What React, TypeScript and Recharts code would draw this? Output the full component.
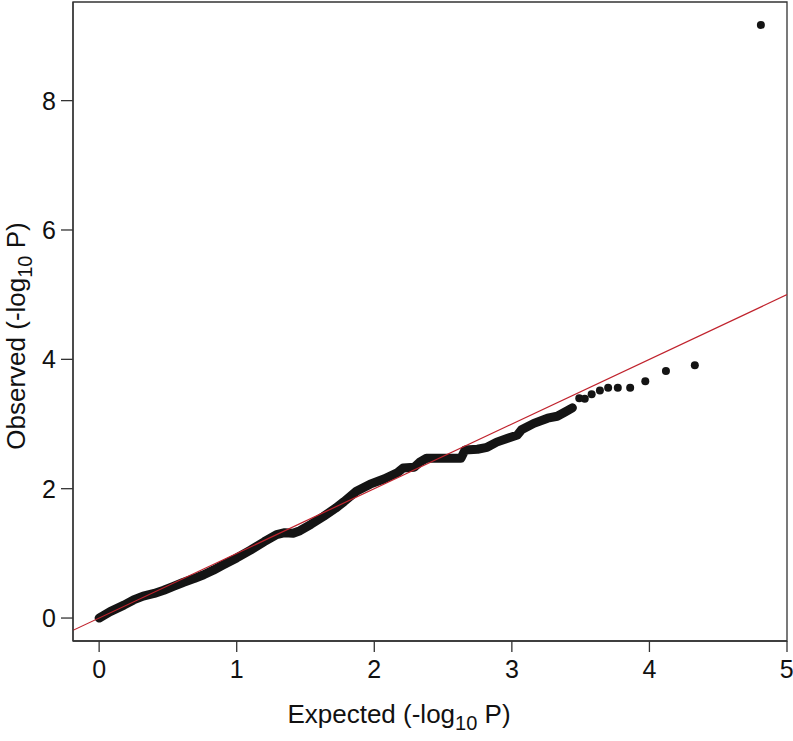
import React from "react";
import {
  ComposedChart,
  Line,
  Scatter,
  XAxis,
  YAxis,
  ReferenceArea,
} from "recharts";

// Dense part of the QQ curve (overlapping points read along the band)
const expectedBand = [
  0.0, 0.08, 0.18, 0.25, 0.32, 0.4, 0.47, 0.54, 0.61, 0.69, 0.76, 0.83, 0.9,
  1.0, 1.1, 1.2, 1.29, 1.35, 1.41, 1.46, 1.54, 1.63, 1.72, 1.78, 1.87, 1.97,
  2.07, 2.17, 2.21, 2.29, 2.33, 2.38, 2.5, 2.63, 2.66, 2.75, 2.82, 2.89, 2.97,
  3.04, 3.07, 3.16, 3.26, 3.33, 3.39, 3.44,
];
const observedBand = [
  0.0, 0.1, 0.2, 0.28, 0.34, 0.38, 0.43, 0.49, 0.55, 0.61, 0.67, 0.74, 0.82,
  0.93, 1.05, 1.18, 1.29, 1.32, 1.31, 1.35, 1.45, 1.57, 1.7, 1.8, 1.96, 2.07,
  2.15, 2.25, 2.32, 2.33, 2.41, 2.47, 2.47, 2.47, 2.6, 2.61, 2.64, 2.72, 2.78,
  2.83, 2.91, 3.01, 3.09, 3.12, 3.19, 3.25,
];

// Individually visible top points
const expectedTail = [3.49, 3.53, 3.58, 3.64, 3.7, 3.77, 3.86, 3.97, 4.12, 4.33, 4.81];
const observedTail = [3.4, 3.39, 3.46, 3.52, 3.56, 3.56, 3.56, 3.66, 3.82, 3.91, 9.17];

const xTicks = [0, 1, 2, 3, 4, 5];
const yTicks = [0, 2, 4, 6, 8];
const xDomain: [number, number] = [-0.19, 5.0];
const yDomain: [number, number] = [-0.355, 9.525];

const bandData = expectedBand.map((x, i) => ({ x, y: observedBand[i] }));
const tailData = expectedTail.map((x, i) => ({ x, y: observedTail[i] }));
const diagData = [
  { x: xDomain[0], y: xDomain[0] },
  { x: xDomain[1], y: xDomain[1] },
];

const FONT = "'Liberation Sans', Arial, Helvetica, sans-serif";
const AXIS = "#333";
const TXT = "#111";

const XTitle = () => (
  <text
    x={399}
    y={723}
    textAnchor="middle"
    fontFamily={FONT}
    fontSize={26}
    fill={TXT}
  >
    <tspan>Expected (-log</tspan>
    <tspan fontSize={20} dy={7}>10</tspan>
    <tspan dy={-7}> P)</tspan>
  </text>
);

const YTitle = () => {
  const cx = 25;
  const cy = 336;
  return (
    <text
      x={cx}
      y={cy}
      transform={`rotate(-90 ${cx} ${cy})`}
      textAnchor="middle"
      fontFamily={FONT}
      fontSize={26}
      fill={TXT}
    >
      <tspan>Observed (-log</tspan>
      <tspan fontSize={20} dy={7}>10</tspan>
      <tspan dy={-7}> P)</tspan>
    </text>
  );
};

export default function App() {
  return (
    <div style={{ position: "absolute", left: 0, top: 0, background: "#fff" }}>
      <ComposedChart
        width={793}
        height={741}
        margin={{ top: 2, right: 6, bottom: 0, left: 0 }}
      >
        <XAxis
          type="number"
          dataKey="x"
          domain={xDomain}
          ticks={xTicks}
          allowDataOverflow
          height={100}
          tickSize={11}
          tickMargin={8}
          axisLine={{ stroke: AXIS, strokeWidth: 1.3 }}
          tickLine={{ stroke: AXIS, strokeWidth: 1.3 }}
          tick={{ fontFamily: FONT, fontSize: 25, fill: TXT }}
          label={<XTitle />}
        />
        <YAxis
          type="number"
          dataKey="y"
          domain={yDomain}
          ticks={yTicks}
          allowDataOverflow
          width={73}
          tickSize={12}
          tickMargin={5}
          axisLine={{ stroke: AXIS, strokeWidth: 1.3 }}
          tickLine={{ stroke: AXIS, strokeWidth: 1.3 }}
          tick={{ fontFamily: FONT, fontSize: 25, fill: TXT }}
          label={<YTitle />}
        />
        <ReferenceArea
          x1={xDomain[0]}
          x2={xDomain[1]}
          y1={yDomain[0]}
          y2={yDomain[1]}
          fill="none"
          fillOpacity={0}
          stroke={AXIS}
          strokeWidth={1.3}
          ifOverflow="visible"
        />
        <Line
          data={bandData}
          dataKey="y"
          type="linear"
          stroke="#141414"
          strokeWidth={9}
          strokeLinecap="round"
          strokeLinejoin="round"
          dot={false}
          activeDot={false}
          isAnimationActive={false}
        />
        <Scatter
          data={tailData}
          dataKey="y"
          fill="#141414"
          isAnimationActive={false}
          shape={(p: any) => <circle cx={p.cx} cy={p.cy} r={4} fill="#141414" />}
        />
        <Line
          data={diagData}
          dataKey="y"
          type="linear"
          stroke="#c0232d"
          strokeWidth={1.2}
          dot={false}
          activeDot={false}
          isAnimationActive={false}
        />
      </ComposedChart>
    </div>
  );
}
